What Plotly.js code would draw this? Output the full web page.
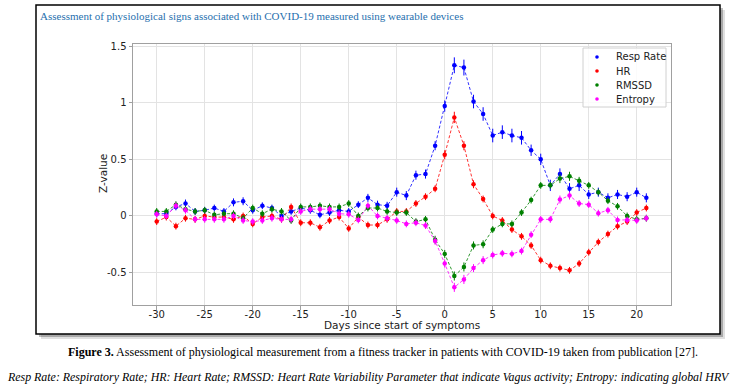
<!DOCTYPE html>
<html>
<head>
<meta charset="utf-8">
<script src="https://cdn.plot.ly/plotly-3.0.1.min.js"></script>
<style>
html,body{margin:0;padding:0;background:#fff;}
#chart{width:733px;height:384px;}
</style>
</head>
<body>
<div id="chart"></div>
<script>
// ---- data ----
const days = [-30,-29,-28,-27,-26,-25,-24,-23,-22,-21,-20,-19,-18,-17,-16,-15,-14,-13,-12,-11,-10,-9,-8,-7,-6,-5,-4,-3,-2,-1,0,1,2,3,4,5,6,7,8,9,10,11,12,13,14,15,16,17,18,19,20,21];

const respRate = [0.02,0.02,0.08,0.11,0.04,0.05,0.07,0.04,0.12,0.13,
  0.05,0.09,0.07,0.00,0.04,0.07,0.05,0.01,0.03,0.05,
  0.04,0.10,0.16,0.10,0.09,0.21,0.18,0.36,0.37,0.62,
  0.97,1.33,1.31,1.01,0.90,0.71,0.74,0.71,0.69,0.58,
  0.50,0.27,0.37,0.24,0.27,0.19,0.21,0.16,0.19,0.17,0.21,0.16];
const respRateErr = [0.03,0.03,0.03,0.035,0.03,0.03,0.03,0.03,0.035,0.035,
  0.03,0.03,0.03,0.03,0.03,0.03,0.03,0.03,0.03,0.03,
  0.03,0.03,0.035,0.035,0.035,0.04,0.04,0.04,0.04,0.04,
  0.05,0.07,0.07,0.06,0.06,0.06,0.06,0.06,0.06,0.05,
  0.05,0.05,0.05,0.05,0.05,0.04,0.04,0.04,0.04,0.04,0.04,0.04];

const hr = [-0.05,-0.01,-0.09,-0.02,-0.03,0.00,-0.01,-0.01,-0.03,0.00,
  -0.07,-0.01,0.00,-0.03,0.08,-0.06,-0.06,-0.10,-0.04,-0.01,
  -0.11,-0.01,-0.08,-0.08,-0.03,0.04,0.04,0.11,0.17,0.24,
  0.54,0.87,0.62,0.28,0.15,0.00,-0.04,-0.12,-0.18,-0.26,
  -0.39,-0.44,-0.46,-0.48,-0.42,-0.32,-0.23,-0.16,-0.09,-0.05,0.03,0.07];
const hrErr = [0.03,0.03,0.03,0.03,0.03,0.03,0.03,0.03,0.03,0.03,
  0.03,0.03,0.03,0.03,0.03,0.03,0.03,0.03,0.03,0.03,
  0.03,0.03,0.03,0.03,0.03,0.03,0.03,0.03,0.03,0.03,
  0.04,0.05,0.04,0.035,0.03,0.03,0.03,0.03,0.03,0.03,
  0.03,0.03,0.03,0.03,0.03,0.03,0.03,0.03,0.03,0.03,0.03,0.03];

const rmssd = [0.04,0.04,0.10,0.06,0.04,0.05,0.01,0.02,0.02,-0.02,
  0.07,0.02,0.06,0.04,-0.04,0.08,0.08,0.09,0.08,0.08,
  0.11,0.00,0.07,0.07,0.04,0.03,0.03,-0.05,-0.03,-0.21,
  -0.335,-0.53,-0.45,-0.26,-0.25,-0.12,-0.07,-0.07,0.03,0.14,
  0.27,0.27,0.33,0.35,0.31,0.27,0.21,0.135,0.085,0.00,-0.03,-0.02];
const rmssdErr = [0.03,0.03,0.03,0.03,0.03,0.03,0.03,0.03,0.03,0.03,
  0.03,0.03,0.03,0.03,0.03,0.03,0.03,0.03,0.03,0.03,
  0.03,0.03,0.03,0.03,0.03,0.03,0.03,0.03,0.03,0.035,
  0.035,0.04,0.04,0.035,0.035,0.03,0.03,0.03,0.03,0.03,
  0.03,0.03,0.04,0.04,0.035,0.03,0.03,0.03,0.03,0.03,0.03,0.03];

const entropy = [0.015,0.00,0.09,0.05,-0.03,-0.03,-0.03,-0.03,0.00,-0.04,
  -0.05,-0.04,-0.02,-0.03,-0.03,0.04,0.06,0.06,0.06,0.02,
  0.015,-0.035,0.09,0.00,-0.02,-0.04,-0.07,-0.06,-0.085,-0.22,
  -0.42,-0.63,-0.56,-0.46,-0.39,-0.345,-0.33,-0.335,-0.31,-0.165,
  -0.03,-0.03,0.145,0.18,0.11,0.10,0.025,0.05,-0.035,-0.035,-0.04,-0.02];
const entropyErr = [0.03,0.03,0.03,0.03,0.03,0.03,0.03,0.03,0.03,0.03,
  0.03,0.03,0.03,0.03,0.03,0.03,0.03,0.03,0.03,0.03,
  0.03,0.03,0.03,0.03,0.03,0.03,0.03,0.03,0.03,0.035,
  0.035,0.04,0.04,0.035,0.035,0.03,0.03,0.03,0.03,0.03,
  0.03,0.03,0.035,0.035,0.03,0.03,0.03,0.03,0.03,0.03,0.03,0.03];

const seriesNames = ['Resp Rate','HR','RMSSD','Entropy'];
const xTickVals = [-30,-25,-20,-15,-10,-5,0,5,10,15,20];
const xTickText = ['-30','-25','-20','-15','-10','-5','0','5','10','15','20'];
const yTickVals = [-0.5,0,0.5,1,1.5];
const yTickText = ['-0.5','0','0.5','1','1.5'];

const titleText = 'Assessment of physiological signs associated with COVID-19 measured using wearable devices';
const xTitle = 'Days since start of symptoms';
const yTitle = 'Z-value';
const caption1 = '<b>Figure 3.</b> Assessment of physiological measurement from a fitness tracker in patients with COVID-19 taken from publication [27].';
const caption2 = '<i>Resp Rate: Respiratory Rate; HR: Heart Rate; RMSSD: Heart Rate Variability Parameter that indicate Vagus activity; Entropy: indicating global HRV</i>';

// ---- styling ----
const colors = ['#0000ff','#ff0000','#008000','#ff00ff'];
const allY = [respRate, hr, rmssd, entropy];
const allErr = [respRateErr, hrErr, rmssdErr, entropyErr];

// plot area geometry (pixels)
const W = 733, H = 384;
const mL = 133, mR = 62, mT = 44, mB = 79;
const pw = W - mL - mR, ph = H - mT - mB;
const px = v => (v - mL) / pw;          // pixel x -> paper
const py = v => (H - mB - v) / ph;      // pixel y -> paper

const traces = [];
allY.forEach((ys, i) => {
  traces.push({
    x: days, y: ys, type: 'scatter', mode: 'lines',
    line: {color: colors[i], width: 1, dash: '3px,2px'},
    opacity: 0.8, showlegend: false, hoverinfo: 'skip'
  });
});
allY.forEach((ys, i) => {
  traces.push({
    x: days, y: ys, type: 'scatter', mode: 'markers', name: seriesNames[i],
    marker: {color: colors[i], size: 4.5, symbol: 'circle'},
    error_y: {type: 'data', array: allErr[i], visible: true, thickness: 1, width: 0, color: colors[i]},
    showlegend: false
  });
});

const shapes = [
  // drop shadow of frame
  {type:'rect', xref:'paper', yref:'paper', layer:'below',
   x0: px(36+5), x1: px(720+5), y0: py(334+5), y1: py(5+5),
   fillcolor:'rgba(0,0,0,0.12)', line:{width:0}},
  {type:'rect', xref:'paper', yref:'paper', layer:'below',
   x0: px(36+3), x1: px(720+3), y0: py(334+3), y1: py(5+3),
   fillcolor:'rgba(0,0,0,0.25)', line:{width:0}},
  // frame
  {type:'rect', xref:'paper', yref:'paper', layer:'below',
   x0: px(36), x1: px(720), y0: py(334), y1: py(5),
   fillcolor:'#ffffff', line:{color:'#000000', width:1.5}},
  // legend box
  {type:'rect', xref:'paper', yref:'paper', layer:'above',
   x0: px(583), x1: px(666), y0: py(107), y1: py(48),
   fillcolor:'rgba(255,255,255,0.85)', line:{color:'#d0d0d0', width:1}}
];

const axisFont = {family:'DejaVu Sans, sans-serif', size:10.5, color:'#222'};
const annotations = [
  {xref:'paper', yref:'paper', x: px(38), y: py(16), xanchor:'left', yanchor:'middle',
   text: titleText, showarrow:false,
   font:{family:'Liberation Serif, Times New Roman, serif', size:11, color:'#1f6fae'}},
  {xref:'paper', yref:'paper', x: px(402), y: py(325), xanchor:'center', yanchor:'middle',
   text: xTitle, showarrow:false, font: axisFont},
  {xref:'paper', yref:'paper', x: px(103), y: py(174), xanchor:'center', yanchor:'middle',
   text: yTitle, textangle:-90, showarrow:false, font: axisFont},
  {xref:'paper', yref:'paper', x: px(383), y: py(352), xanchor:'center', yanchor:'middle',
   text: caption1, showarrow:false,
   font:{family:'Liberation Serif, Times New Roman, serif', size:12, color:'#000'}},
  {xref:'paper', yref:'paper', x: px(5), y: py(377), xanchor:'left', yanchor:'middle',
   text: caption2, showarrow:false,
   font:{family:'Liberation Serif, Times New Roman, serif', size:11.9, color:'#000'}}
];

// manual legend (matplotlib style: dot + label)
const legendRows = [57, 71, 85, 99];
seriesNames.forEach((name, i) => {
  shapes.push({type:'circle', xref:'paper', yref:'paper', layer:'above',
    xsizemode:'pixel', ysizemode:'pixel', xanchor: px(597), yanchor: py(legendRows[i]),
    x0:-1.8, x1:1.8, y0:-1.8, y1:1.8, fillcolor: colors[i], line:{width:0}});
  annotations.push({xref:'paper', yref:'paper', x: px(614), y: py(legendRows[i]),
    xanchor:'left', yanchor:'middle', text: name, showarrow:false,
    font:{family:'DejaVu Sans, sans-serif', size:10, color:'#222'}});
});

const axisCommon = {
  showgrid: true, gridcolor: '#e3e3e3', gridwidth: 1,
  zeroline: false, showline: true, mirror: true, linecolor: '#a0a0a0', linewidth: 1,
  ticks: 'outside', ticklen: 3.5, tickcolor: '#a0a0a0', tickwidth: 1,
  tickfont: {family: 'DejaVu Sans, sans-serif', size: 10, color: '#222'},
  tickmode: 'array'
};

const layout = {
  width: W, height: H,
  margin: {l: mL, r: mR, t: mT, b: mB},
  paper_bgcolor: '#ffffff', plot_bgcolor: 'rgba(0,0,0,0)',
  showlegend: false,
  xaxis: Object.assign({}, axisCommon, {
    range: [-32.47, 23.57], tickvals: xTickVals, ticktext: xTickText,
    ticklabelstandoff: -4
  }),
  yaxis: Object.assign({}, axisCommon, {
    range: [-0.786, 1.518], tickvals: yTickVals, ticktext: yTickText
  }),
  shapes: shapes,
  annotations: annotations
};

Plotly.newPlot('chart', traces, layout, {displayModeBar: false, staticPlot: true});
</script>
</body>
</html>
